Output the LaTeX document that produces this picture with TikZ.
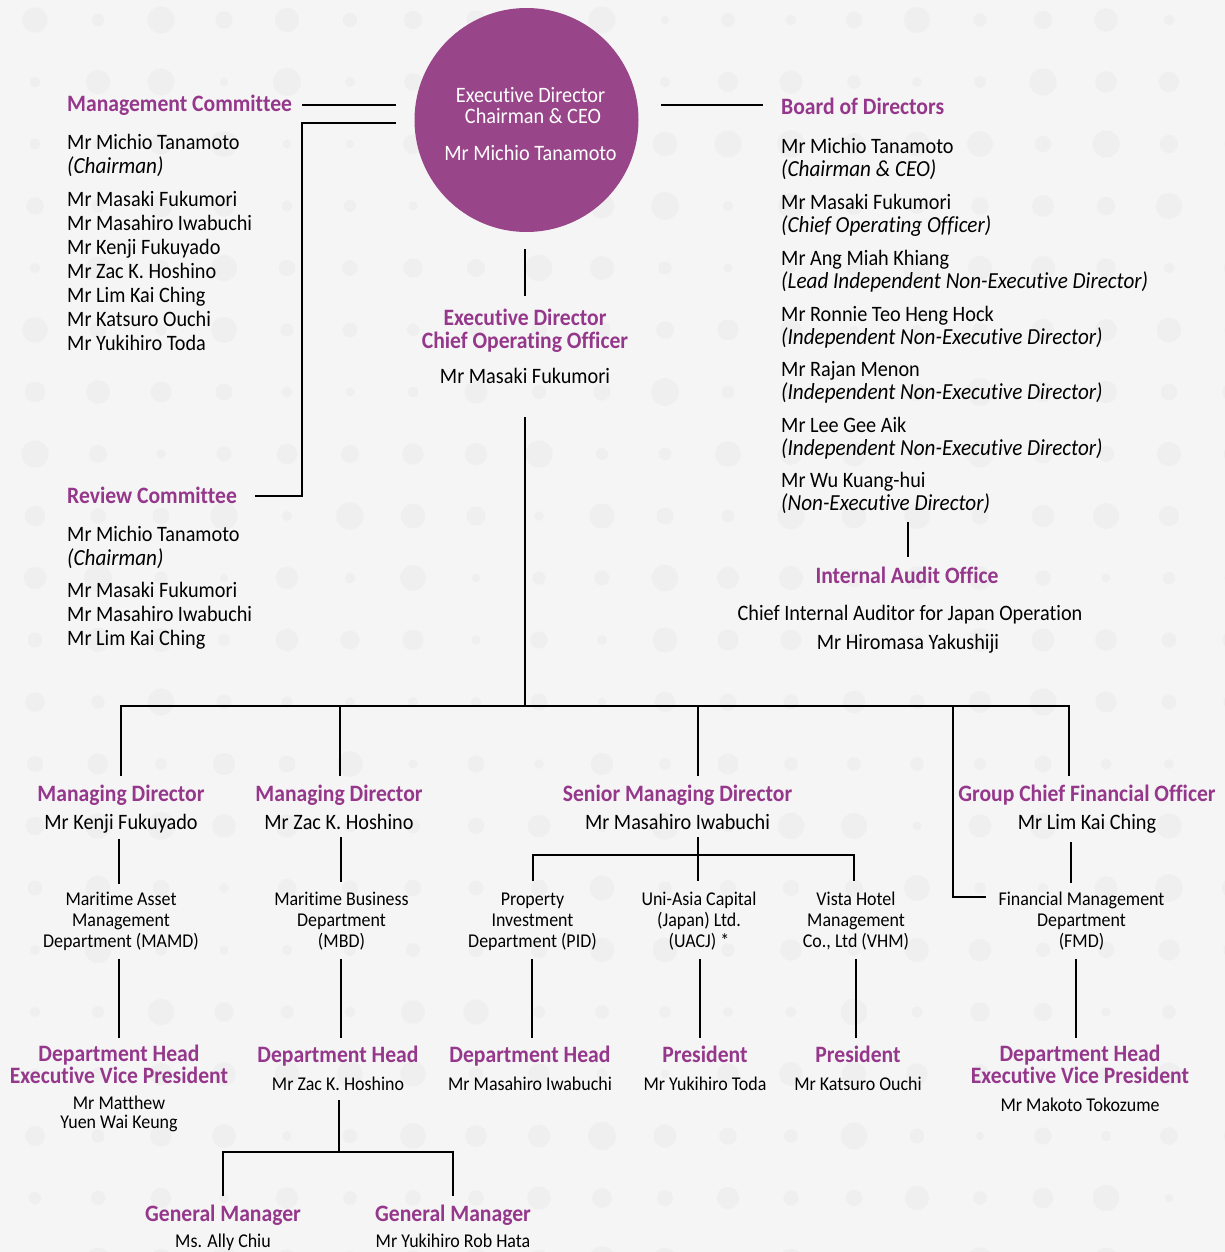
\documentclass[tikz,border=0pt]{standalone}
\usepackage{fontspec}
\setmainfont{Carlito}[FakeStretch=0.92, Ligatures={NoCommon}]
\definecolor{pur}{RGB}{149,55,139}
\definecolor{circ}{RGB}{152,69,138}
\definecolor{bgc}{RGB}{245,245,245}
\definecolor{dotc}{RGB}{239,239,239}
\begin{document}
\begin{tikzpicture}[x=1pt,y=-1pt,
 hd/.style={font=\fontsize{23.5}{26}\selectfont\bfseries, text=pur, inner sep=0},
 nm/.style={font=\fontsize{22}{24}\selectfont, inner sep=0, text=black},
 itl/.style={font=\fontsize{23}{24}\selectfont\itshape, inner sep=0, text=black},
 dp/.style={font=\fontsize{19.5}{21}\selectfont, inner sep=0, text=black},
 L/.style={anchor=base west}, C/.style={anchor=base},
 ln/.style={line width=2pt, draw=black}]
\fill[bgc] (0,0) rectangle (1225,1252);
\useasboundingbox (0,0) rectangle (1225,1252);
% background dots
\pgfmathsetseed{7}
\foreach \i in {0,...,19}{
  \foreach \j in {0,...,20}{
    \pgfmathsetmacro\rr{4+10*rnd}
    \fill[dotc] ({35+63*\i},{20+62*\j}) circle[radius=\rr pt];
  }
}
% CEO circle
\node[circle, fill=circ, minimum size=224pt, inner sep=0] (ceo) at (526.5,120) {};
\node[nm, C, text=white] (ceo1) at (530.5,103) {Executive Director};
\node[nm, C, text=white] (ceo2) at (533,124) {Chairman \& CEO};
\node[nm, C, text=white] (ceo3) at (530.5,161) {Mr Michio Tanamoto};
% Management Committee
\node[hd, L] (mc) at (67,112) {Management Committee};
\node[nm, L] (mc1) at (67,150) {Mr Michio Tanamoto};
\node[itl, L] (mc2) at (67,174) {(Chairman)};
\node[nm, L] (mc3) at (67,206) {Mr Masaki Fukumori};
\node[nm, L] (mc4) at (67,230) {Mr Masahiro Iwabuchi};
\node[nm, L] (mc5) at (67,254) {Mr Kenji Fukuyado};
\node[nm, L] (mc6) at (67,278) {Mr Zac K. Hoshino};
\node[nm, L] (mc7) at (67,302) {Mr Lim Kai Ching};
\node[nm, L] (mc8) at (67,326) {Mr Katsuro Ouchi};
\node[nm, L] (mc9) at (67,350) {Mr Yukihiro Toda};
% Review Committee
\node[hd, L] (rc) at (67,503) {Review Committee};
\node[nm, L] (rc1) at (67,541) {Mr Michio Tanamoto};
\node[itl, L] (rc2) at (67,565) {(Chairman)};
\node[nm, L] (rc3) at (67,597) {Mr Masaki Fukumori};
\node[nm, L] (rc4) at (67,621) {Mr Masahiro Iwabuchi};
\node[nm, L] (rc5) at (67,645) {Mr Lim Kai Ching};
% Board of Directors
\node[hd, L] (bd) at (781,115) {Board of Directors};
\node[nm, L] (bd1) at (781,154) {Mr Michio Tanamoto};
\node[itl, L] (bd1r) at (781,177) {(Chairman \& CEO)};
\node[nm, L] (bd2) at (781,209) {Mr Masaki Fukumori};
\node[itl, L] (bd2r) at (781,233) {(Chief Operating Officer)};
\node[nm, L] (bd3) at (781,265) {Mr Ang Miah Khiang};
\node[itl, L] (bd3r) at (781,288) {(Lead Independent Non-Executive Director)};
\node[nm, L] (bd4) at (781,321) {Mr Ronnie Teo Heng Hock};
\node[itl, L] (bd4r) at (781,344) {(Independent Non-Executive Director)};
\node[nm, L] (bd5) at (781,376) {Mr Rajan Menon};
\node[itl, L] (bd5r) at (781,399) {(Independent Non-Executive Director)};
\node[nm, L] (bd6) at (781,432) {Mr Lee Gee Aik};
\node[itl, L] (bd6r) at (781,455) {(Independent Non-Executive Director)};
\node[nm, L] (bd7) at (781,487) {Mr Wu Kuang-hui};
\node[itl, L] (bd7r) at (781,510) {(Non-Executive Director)};
% Internal Audit
\node[hd, C] (ia) at (907,583) {Internal Audit Office};
\node[nm, C] (ia1) at (910,620) {Chief Internal Auditor for Japan Operation};
\node[nm, C] (ia2) at (908,649) {Mr Hiromasa Yakushiji};
% COO
\node[hd, C] (coo1) at (525,325) {Executive Director};
\node[hd, C] (coo2) at (525,348) {Chief Operating Officer};
\node[nm, C] (coo3) at (525,383) {Mr Masaki Fukumori};
% Tier 2
\node[hd, C] (md1) at (121,801) {Managing Director};
\node[nm, C] (md1n) at (121,829) {Mr Kenji Fukuyado};
\node[hd, C] (md2) at (339,801) {Managing Director};
\node[nm, C] (md2n) at (339,829) {Mr Zac K. Hoshino};
\node[hd, C] (smd) at (677.5,801) {Senior Managing Director};
\node[nm, C] (smdn) at (677.5,829) {Mr Masahiro Iwabuchi};
\node[hd, C] (cfo) at (1087,801) {Group Chief Financial Officer};
\node[nm, C] (cfon) at (1087,829) {Mr Lim Kai Ching};
% Departments
\node[dp, C] (mamd1) at (121,905) {Maritime Asset};
\node[dp, C] (mamd2) at (121,926) {Management};
\node[dp, C] (mamd3) at (121,947) {Department (MAMD)};
\node[dp, C] (mbd1) at (341.5,905) {Maritime Business};
\node[dp, C] (mbd2) at (341.5,926) {Department};
\node[dp, C] (mbd3) at (341.5,947) {(MBD)};
\node[dp, C] (pid1) at (532.5,905) {Property};
\node[dp, C] (pid2) at (532.5,926) {Investment};
\node[dp, C] (pid3) at (532.5,947) {Department (PID)};
\node[dp, C] (ua1) at (699,905) {Uni-Asia Capital};
\node[dp, C] (ua2) at (699,926) {(Japan) Ltd.};
\node[dp, C] (ua3) at (699,947) {(UACJ) *};
\node[dp, C] (vh1) at (856,905) {Vista Hotel};
\node[dp, C] (vh2) at (856,926) {Management};
\node[dp, C] (vh3) at (856,947) {Co., Ltd (VHM)};
\node[dp, C] (fm1) at (1081.5,905) {Financial Management};
\node[dp, C] (fm2) at (1081.5,926) {Department};
\node[dp, C] (fm3) at (1081.5,947) {(FMD)};
% Heads
\node[hd, C] (h1) at (119,1061) {Department Head};
\node[hd, C] (h1b) at (119,1083) {Executive Vice President};
\node[dp, C] (h1n) at (119,1109) {Mr Matthew};
\node[dp, C] (h1m) at (119,1128) {Yuen Wai Keung};
\node[hd, C] (h2) at (338,1062) {Department Head};
\node[dp, C] (h2n) at (338,1090) {Mr Zac K. Hoshino};
\node[hd, C] (h3) at (530,1062) {Department Head};
\node[dp, C] (h3n) at (530,1090) {Mr Masahiro Iwabuchi};
\node[hd, C] (h4) at (705,1062) {President};
\node[dp, C] (h4n) at (705,1090) {Mr Yukihiro Toda};
\node[hd, C] (h5) at (858,1062) {President};
\node[dp, C] (h5n) at (858,1090) {Mr Katsuro Ouchi};
\node[hd, C] (h6) at (1080,1061) {Department Head};
\node[hd, C] (h6b) at (1080,1083) {Executive Vice President};
\node[dp, C] (h6n) at (1080,1111) {Mr Makoto Tokozume};
% General managers
\node[hd, C] (gm1) at (223,1221) {General Manager};
\node[dp, C] (gm1n) at (223,1247) {Ms. Ally Chiu};
\node[hd, C] (gm2) at (453,1221) {General Manager};
\node[dp, C] (gm2n) at (453,1247) {Mr Yukihiro Rob Hata};
% connector coordinates
\coordinate (mcA) at (302,105); \coordinate (ceoA) at (396,105);
\coordinate (ceoB) at (396,123); \coordinate (rcK) at (302,123);
\coordinate (rcJ) at (302,496); \coordinate (rcA) at (255,496);
\coordinate (ceoC) at (661,105); \coordinate (bdA) at (763,105);
\coordinate (ceoD) at (525,249); \coordinate (cooT) at (525,296);
\coordinate (cooB) at (525,417); \coordinate (busC) at (525,706);
\coordinate (busL) at (120.5,706); \coordinate (busR) at (1068.5,706);
\coordinate (md1T) at (120.5,776); \coordinate (md2T) at (339.5,776);
\coordinate (busS) at (697.5,706); \coordinate (smdT) at (697.5,776);
\coordinate (busF) at (952.5,706); \coordinate (fmK) at (952.5,897); \coordinate (fmL) at (986,897);
\coordinate (cfoT) at (1068.5,776);
\draw[ln] (mcA) -- (ceoA);
\draw[ln] (ceoB) -- (rcK) -- (rcJ) -- (rcA);
\draw[ln] (ceoC) -- (bdA);
\draw[ln] (ceoD) -- (cooT);
\draw[ln] (cooB) -- (busC);
\draw[ln] (md1T) -- (busL) -- (busR) -- (cfoT);
\draw[ln] (md2T |- busL) -- (md2T);
\draw[ln] (busS) -- (smdT);
\draw[ln] (busF) -- (fmK) -- (fmL);
% tier 2 to departments
\draw[ln] (119,839) -- (119,884);
\draw[ln] (341,837) -- (341,882);
\draw[ln] (697.5,837) -- (697.5,881);
\draw[ln] (533,881) -- (533,855) -- (854,855) -- (854,881);
\draw[ln] (1070.5,842) -- (1070.5,883);
% departments to heads
\foreach \xx in {119,340.5,532,700,855.5,1076}{
  \draw[ln] (\xx,959) -- (\xx,1038);
}
% general managers
\draw[ln] (339,1100) -- (339,1152);
\draw[ln] (223,1196) -- (223,1152) -- (453,1152) -- (453,1196);
% internal audit
\draw[ln] (908,522) -- (908,557);
\end{tikzpicture}
\end{document}
